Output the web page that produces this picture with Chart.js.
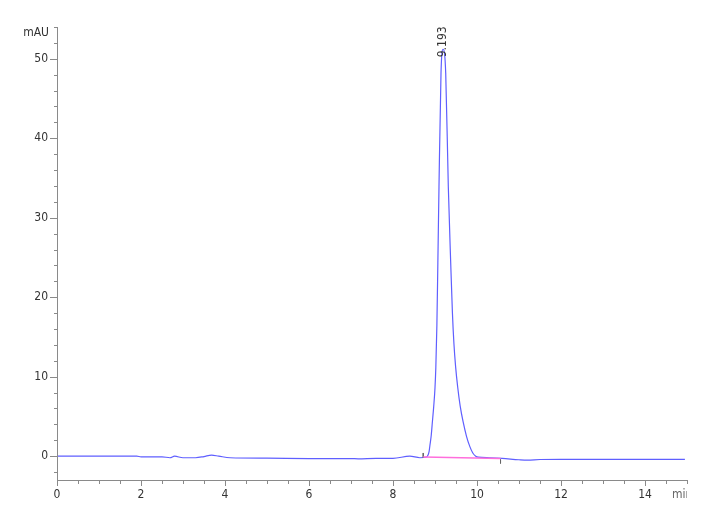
<!DOCTYPE html>
<html>
<head>
<meta charset="utf-8">
<script src="https://cdn.jsdelivr.net/npm/chart.js@4.4.1/dist/chart.umd.min.js"></script>
<style>
  html, body { margin: 0; padding: 0; background: #fff; }
  #wrap { width: 720px; height: 528px; }
</style>
</head>
<body>
<div id="wrap"><canvas id="chrom"></canvas></div>
<script>
// trace (time in min, signal in mAU)
const times = [0, 0.5, 1, 1.5, 1.9, 2.0, 2.5, 2.69, 2.8, 3.0, 3.3, 3.5, 3.68, 3.85, 4.12, 5.0, 6.0, 7.0, 7.17, 7.6, 8.0, 8.4, 8.64, 8.8,
  8.83, 8.86, 8.88, 8.91, 8.936, 8.97, 9.0, 9.02, 9.045, 9.068, 9.095, 9.143, 9.193,
  9.255, 9.317, 9.374, 9.415, 9.45, 9.49, 9.54, 9.60, 9.67, 9.75, 9.83, 9.90, 9.97, 10.03,
  10.3, 10.6, 11.0, 11.2, 11.5, 12.0, 13.0, 14.0, 14.95];
const signal = [0, 0, 0, 0, 0, -0.08, -0.08, -0.2, 0, -0.2, -0.2, -0.05, 0.13, 0.0, -0.2, -0.25, -0.3, -0.3, -0.33, -0.27, -0.27, 0, -0.2, -0.1,
  0.1, 0.6, 1.4, 2.6, 4.2, 6.3, 8.6, 11.2, 16.5, 24.3, 33.9, 48.2, 51.2,
  48.2, 33.9, 24.3, 18.0, 14.2, 11.3, 8.7, 6.3, 4.3, 2.5, 1.2, 0.4, 0.0, -0.12,
  -0.2, -0.28, -0.45, -0.5, -0.42, -0.4, -0.4, -0.4, -0.4];

// integration baseline and peak start / end marks
const baseTimes = [8.72, 10.56];
const baseValues = [-0.1, -0.3];
const startMark = [0.4, -0.17];
const endMark = [-0.42, -0.92];

const peakTime = 9.193;
const peakTop = 51.2;
const peakLabel = '9.193';

// axis ticks
const xTicks = [];
for (let t = 0; t <= 15; t += 0.5) xTicks.push(t);
const xLabels = [0, 2, 4, 6, 8, 10, 12, 14];
const yTicks = [];
for (let v = -2; v <= 54; v += 2) yTicks.push(v);
const yLabels = [0, 10, 20, 30, 40, 50];

const font = '12px "Liberation Sans Narrow", "DejaVu Sans Condensed", Arial, sans-serif';

const pts = (xs, ys) => xs.map((x, i) => ({ x: x, y: ys[i] }));

const axesPlugin = {
  id: 'hplcAxes',
  afterDraw(chart) {
    const ctx = chart.ctx;
    const a = chart.chartArea;
    const xs = chart.scales.x, ys = chart.scales.y;
    ctx.save();
    ctx.strokeStyle = '#8a8a8a';
    ctx.lineWidth = 1;
    ctx.beginPath();
    ctx.moveTo(a.left + 0.5, a.top);
    ctx.lineTo(a.left + 0.5, a.bottom + 0.5);
    ctx.lineTo(a.right, a.bottom + 0.5);
    // y ticks
    yTicks.forEach(v => {
      const y = Math.round(ys.getPixelForValue(v)) + 0.5;
      const len = v % 10 === 0 ? 7 : 3;
      ctx.moveTo(a.left, y);
      ctx.lineTo(a.left - len, y);
    });
    // x ticks
    xTicks.forEach(t => {
      const x = Math.round(xs.getPixelForValue(t)) + 0.5;
      const len = xLabels.includes(t) ? 6 : 4;
      ctx.moveTo(x, a.bottom);
      ctx.lineTo(x, a.bottom + len);
    });
    ctx.stroke();

    ctx.fillStyle = '#333';
    ctx.font = font;
    ctx.textAlign = 'right';
    ctx.textBaseline = 'middle';
    yLabels.forEach(v => ctx.fillText(String(v), a.left - 9, ys.getPixelForValue(v)));
    ctx.fillText('mAU', a.left - 8, a.top + 6);

    ctx.textAlign = 'center';
    xLabels.forEach(t => ctx.fillText(String(t), xs.getPixelForValue(t), a.bottom + 15));
    ctx.save();
    ctx.beginPath();
    ctx.rect(0, 0, a.right, chart.height);
    ctx.clip();
    ctx.textAlign = 'left';
    ctx.fillStyle = '#666';
    ctx.fillText('min', a.right - 15, a.bottom + 15);
    ctx.restore();

    // peak label, rotated, sitting on the apex
    ctx.translate(xs.getPixelForValue(peakTime), ys.getPixelForValue(peakTop) + 8);
    ctx.rotate(-Math.PI / 2);
    ctx.textAlign = 'left';
    ctx.fillStyle = '#333';
    ctx.fillText(peakLabel, 0, 0);
    ctx.restore();
  }
};

new Chart(document.getElementById('chrom'), {
  type: 'line',
  data: {
    datasets: [
      {
        data: pts(baseTimes, baseValues),
        borderColor: 'rgb(255,110,220)',
        borderWidth: 1.5,
        pointRadius: 0
      },
      {
        data: pts([baseTimes[0], baseTimes[0]], startMark),
        borderColor: '#666',
        borderWidth: 1,
        pointRadius: 0
      },
      {
        data: pts([baseTimes[1], baseTimes[1]], endMark),
        borderColor: '#666',
        borderWidth: 1,
        pointRadius: 0
      },
      {
        data: pts(times, signal),
        borderColor: 'rgb(95,95,255)',
        borderWidth: 1.2,
        pointRadius: 0,
        cubicInterpolationMode: 'monotone'
      }
    ]
  },
  options: {
    responsive: true,
    maintainAspectRatio: false,
    animation: false,
    events: [],
    layout: { padding: { left: 57, right: 33, top: 27, bottom: 48 } },
    plugins: { legend: { display: false }, tooltip: { enabled: false } },
    scales: {
      x: { type: 'linear', min: 0, max: 15, display: false },
      y: { type: 'linear', min: -3, max: 54, display: false }
    }
  },
  plugins: [axesPlugin]
});
</script>
</body>
</html>
